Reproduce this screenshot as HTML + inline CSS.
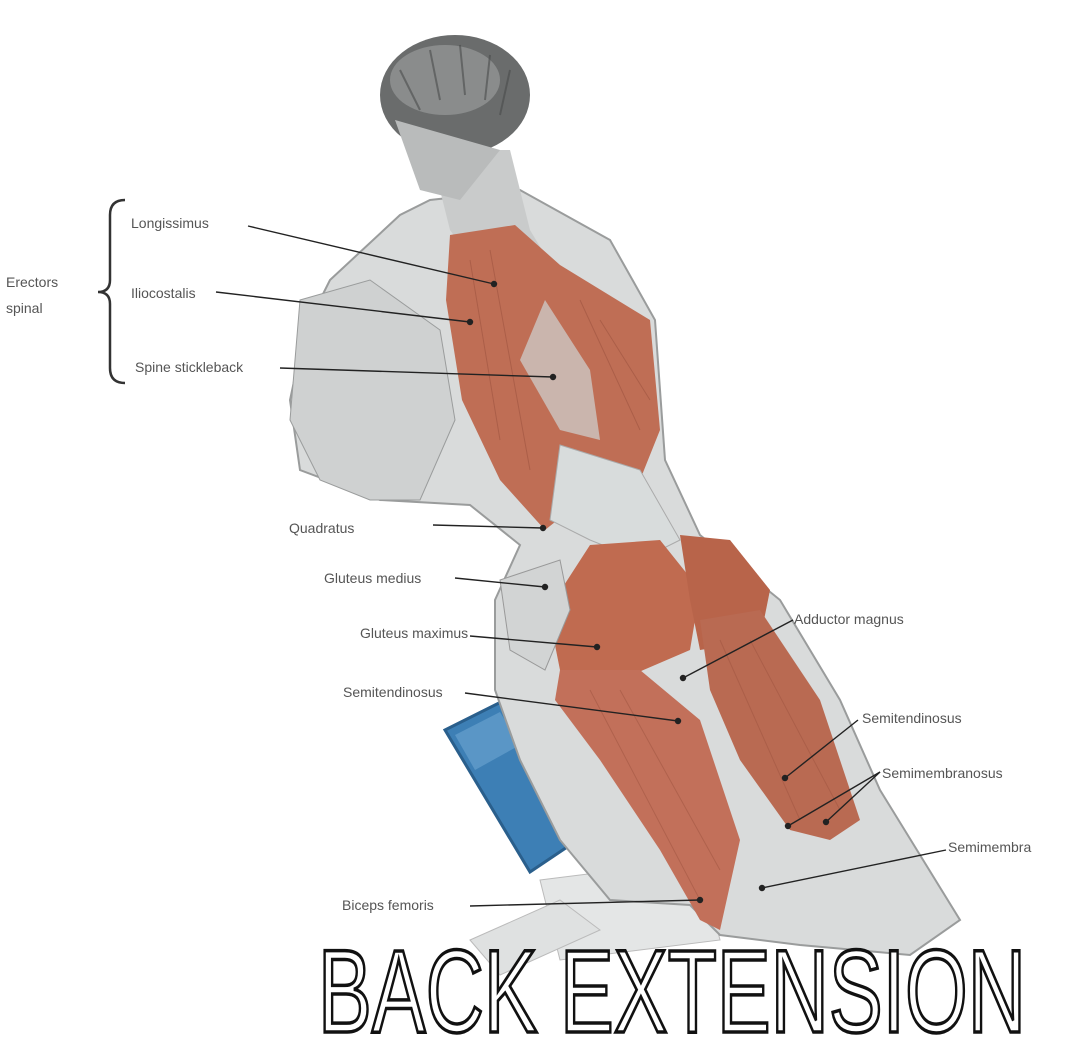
<!DOCTYPE html>
<html><head><meta charset="utf-8"><style>
html,body{margin:0;padding:0;background:#fff;}
svg{display:block;}
text{font-family:"Liberation Sans",sans-serif;}
</style></head><body>
<svg width="1080" height="1048" viewBox="0 0 1080 1048" xmlns="http://www.w3.org/2000/svg">
<rect width="1080" height="1048" fill="#fff"/>
<path d="M540 880 L700 860 L720 940 L560 960 Z" fill="#e4e6e6" stroke="#bbb"/>
<path d="M470 940 L560 900 L600 930 L500 975 Z" fill="#dfe1e1" stroke="#bbb"/>
<path d="M445 730 L505 700 L585 835 L530 872 Z" fill="#3d7fb5" stroke="#2a5f8c" stroke-width="3"/>
<path d="M455 735 L500 712 L520 745 L475 770 Z" fill="#5a96c6"/>
<path d="M330 280 L400 215 L430 200 L520 190 L610 240 L655 320 L665 460 L700 535 L780 600 L840 700 L880 790 L960 920 L910 955 L800 945 L720 935 L690 905 L610 900 L560 840 L520 760 L495 690 L495 600 L520 545 L470 505 L380 500 L300 470 L290 400 L305 330 Z" fill="#d9dbdb" stroke="#9a9c9c" stroke-width="2"/>
<path d="M300 300 L370 280 L440 330 L455 420 L420 500 L370 500 L320 480 L290 420 Z" fill="#cfd1d1" stroke="#9a9c9c"/>
<path d="M430 150 L510 150 L530 230 L560 280 L500 300 L450 230 Z" fill="#c9cbcb"/>
<ellipse cx="455" cy="95" rx="75" ry="60" fill="#6a6c6c"/>
<ellipse cx="445" cy="80" rx="55" ry="35" fill="#8a8c8c"/>
<g stroke="#4a4c4c" stroke-width="2" opacity="0.6">
<path d="M400 70 L420 110 M430 50 L440 100 M460 45 L465 95 M490 55 L485 100 M510 70 L500 115"/>
</g>
<path d="M395 120 L420 190 L460 200 L500 150 Z" fill="#b9bbbb"/>
<path d="M450 235 L515 225 L560 265 L650 320 L660 430 L640 480 L600 460 L570 510 L545 530 L500 480 L462 400 L446 300 Z" fill="#bf6e55"/>
<path d="M545 300 L520 360 L560 430 L600 440 L590 370 Z" fill="#cfd3d3" opacity="0.7"/>
<g stroke="#9e5440" stroke-width="1" opacity="0.6">
<path d="M470 260 L500 440 M490 250 L530 470 M580 300 L640 430 M600 320 L650 400"/>
</g>
<path d="M560 445 L640 470 L680 540 L640 560 L590 540 L550 520 Z" fill="#d8dcdc" stroke="#aaa"/>
<path d="M590 545 L660 540 L700 590 L690 650 L620 680 L560 670 L548 610 Z" fill="#c06b50"/>
<path d="M680 535 L730 540 L770 590 L760 640 L700 650 L690 600 Z" fill="#b8644a"/>
<path d="M560 670 L640 670 L700 720 L740 840 L720 930 L700 920 L660 850 L600 760 L555 700 Z" fill="#c2705a"/>
<path d="M700 620 L760 610 L820 700 L860 820 L830 840 L790 830 L740 760 L710 690 Z" fill="#b96a52"/>
<g stroke="#9e5440" stroke-width="1" opacity="0.5">
<path d="M590 690 L700 900 M620 690 L720 870 M720 640 L800 820 M750 640 L840 810"/>
</g>
<path d="M500 580 L560 560 L570 610 L545 670 L510 650 Z" fill="#d2d4d4" stroke="#999"/>

<path d="M125 200 Q110 200 110 215 L110 280 Q110 292 98 292 Q110 292 110 304 L110 368 Q110 383 125 383" fill="none" stroke="#333" stroke-width="2.5"/>
<g font-size="14" fill="#555">
<text x="6" y="287">Erectors</text>
<text x="6" y="313">spinal</text>
<text x="131" y="228">Longissimus</text>
<text x="131" y="298">Iliocostalis</text>
<text x="135" y="372">Spine stickleback</text>
<text x="289" y="533">Quadratus</text>
<text x="324" y="583">Gluteus medius</text>
<text x="360" y="638">Gluteus maximus</text>
<text x="343" y="697">Semitendinosus</text>
<text x="794" y="624">Adductor magnus</text>
<text x="862" y="723">Semitendinosus</text>
<text x="882" y="778">Semimembranosus</text>
<text x="948" y="852">Semimembra</text>
<text x="342" y="910">Biceps femoris</text>
</g>
<g stroke="#222" stroke-width="1.4" fill="#222">
<line x1="248" y1="226" x2="494" y2="284"/><circle cx="494" cy="284" r="2.5"/>
<line x1="216" y1="292" x2="470" y2="322"/><circle cx="470" cy="322" r="2.5"/>
<line x1="280" y1="368" x2="553" y2="377"/><circle cx="553" cy="377" r="2.5"/>
<line x1="433" y1="525" x2="543" y2="528"/><circle cx="543" cy="528" r="2.5"/>
<line x1="455" y1="578" x2="545" y2="587"/><circle cx="545" cy="587" r="2.5"/>
<line x1="470" y1="636" x2="597" y2="647"/><circle cx="597" cy="647" r="2.5"/>
<line x1="465" y1="693" x2="678" y2="721"/><circle cx="678" cy="721" r="2.5"/>
<line x1="793" y1="620" x2="683" y2="678"/><circle cx="683" cy="678" r="2.5"/>
<line x1="858" y1="720" x2="785" y2="778"/><circle cx="785" cy="778" r="2.5"/>
<line x1="880" y1="772" x2="788" y2="826"/><circle cx="788" cy="826" r="2.5"/>
<line x1="880" y1="772" x2="826" y2="822"/><circle cx="826" cy="822" r="2.5"/>
<line x1="946" y1="850" x2="762" y2="888"/><circle cx="762" cy="888" r="2.5"/>
<line x1="470" y1="906" x2="700" y2="900"/><circle cx="700" cy="900" r="2.5"/>
</g>
<text x="318" y="1032" font-size="118" textLength="708" lengthAdjust="spacingAndGlyphs" fill="#fff" stroke="#111" stroke-width="3.5">BACK EXTENSION</text>
</svg>
</body></html>
